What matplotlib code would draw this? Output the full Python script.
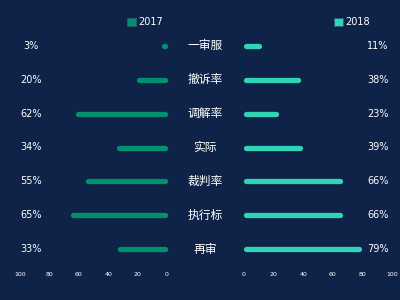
import matplotlib.pyplot as plt
import matplotlib.patches as mpatches
import numpy as np

plt.rcParams["font.family"] = ["Noto Sans CJK SC", "DejaVu Sans"]

categories = ["一审服", "撤诉率", "调解率", "实际", "裁判率", "执行标", "再审"]
values_2017 = [3, 20, 62, 34, 55, 65, 33]
values_2018 = [11, 38, 23, 39, 66, 66, 79]
ticks = [0, 20, 40, 60, 80, 100]

bg = "#0f2349"
c2017 = "#02916f"
c2018 = "#31d5b5"
fg = "#ffffff"

fig = plt.figure(figsize=(4, 3), dpi=100, facecolor=bg)
ax_l = fig.add_axes([20 / 400, 1 - 266 / 300, 147 / 400, 237 / 300])
ax_r = fig.add_axes([244 / 400, 1 - 266 / 300, 148 / 400, 237 / 300])

y = np.arange(len(categories))
for ax, vals, color in [(ax_l, values_2017, c2017), (ax_r, values_2018, c2018)]:
    ax.set_facecolor(bg)
    lc = ax.hlines(y, 1.2, np.maximum(np.array(vals) - 1.2, 1.2), colors=color,
                   linewidth=3.8, capstyle="round")
    lc.set_clip_on(False)
    ax.set_xlim(0, 100)
    ax.set_ylim(len(categories) - 0.5, -0.5)
    ax.set_xticks(ticks)
    ax.set_xticklabels([str(t) for t in ticks], fontsize=4.5, color=fg,
                       family="DejaVu Sans")
    ax.tick_params(axis="x", length=0, pad=4)
    ax.set_yticks([])
    for s in ax.spines.values():
        s.set_visible(False)
ax_l.invert_xaxis()

for i, (a, b) in enumerate(zip(values_2017, values_2018)):
    ax_l.annotate(f"{a}%", xy=(0, i), xycoords=("figure fraction", "data"),
                  xytext=(31 / 400, i), textcoords=("figure fraction", "data"),
                  ha="center", va="center", color=fg, fontsize=7,
                  family="DejaVu Sans")
    ax_r.annotate(f"{b}%", xy=(0, i), xycoords=("figure fraction", "data"),
                  xytext=(378 / 400, i), textcoords=("figure fraction", "data"),
                  ha="center", va="center", color=fg, fontsize=7,
                  family="DejaVu Sans")
    ax_l.annotate(categories[i], xy=(0, i), xycoords=("figure fraction", "data"),
                  xytext=(205 / 400, i), textcoords=("figure fraction", "data"),
                  ha="center", va="center", color=fg, fontsize=8.5)

h17 = mpatches.Patch(facecolor=c2017, edgecolor="#2a5a70", linewidth=0.5, label="2017")
h18 = mpatches.Patch(facecolor=c2018, edgecolor="#2a5a70", linewidth=0.5, label="2018")
for handle, xpos in [(h17, 145 / 400), (h18, 352 / 400)]:
    leg = fig.legend(handles=[handle], loc="center", bbox_to_anchor=(xpos, 1 - 22 / 300),
                     frameon=False, handlelength=0.9, handleheight=0.9,
                     handletextpad=0.3, prop={"family": "DejaVu Sans", "size": 7})
    for t in leg.get_texts():
        t.set_color(fg)

fig.savefig("out.png", dpi=100, facecolor=bg)
